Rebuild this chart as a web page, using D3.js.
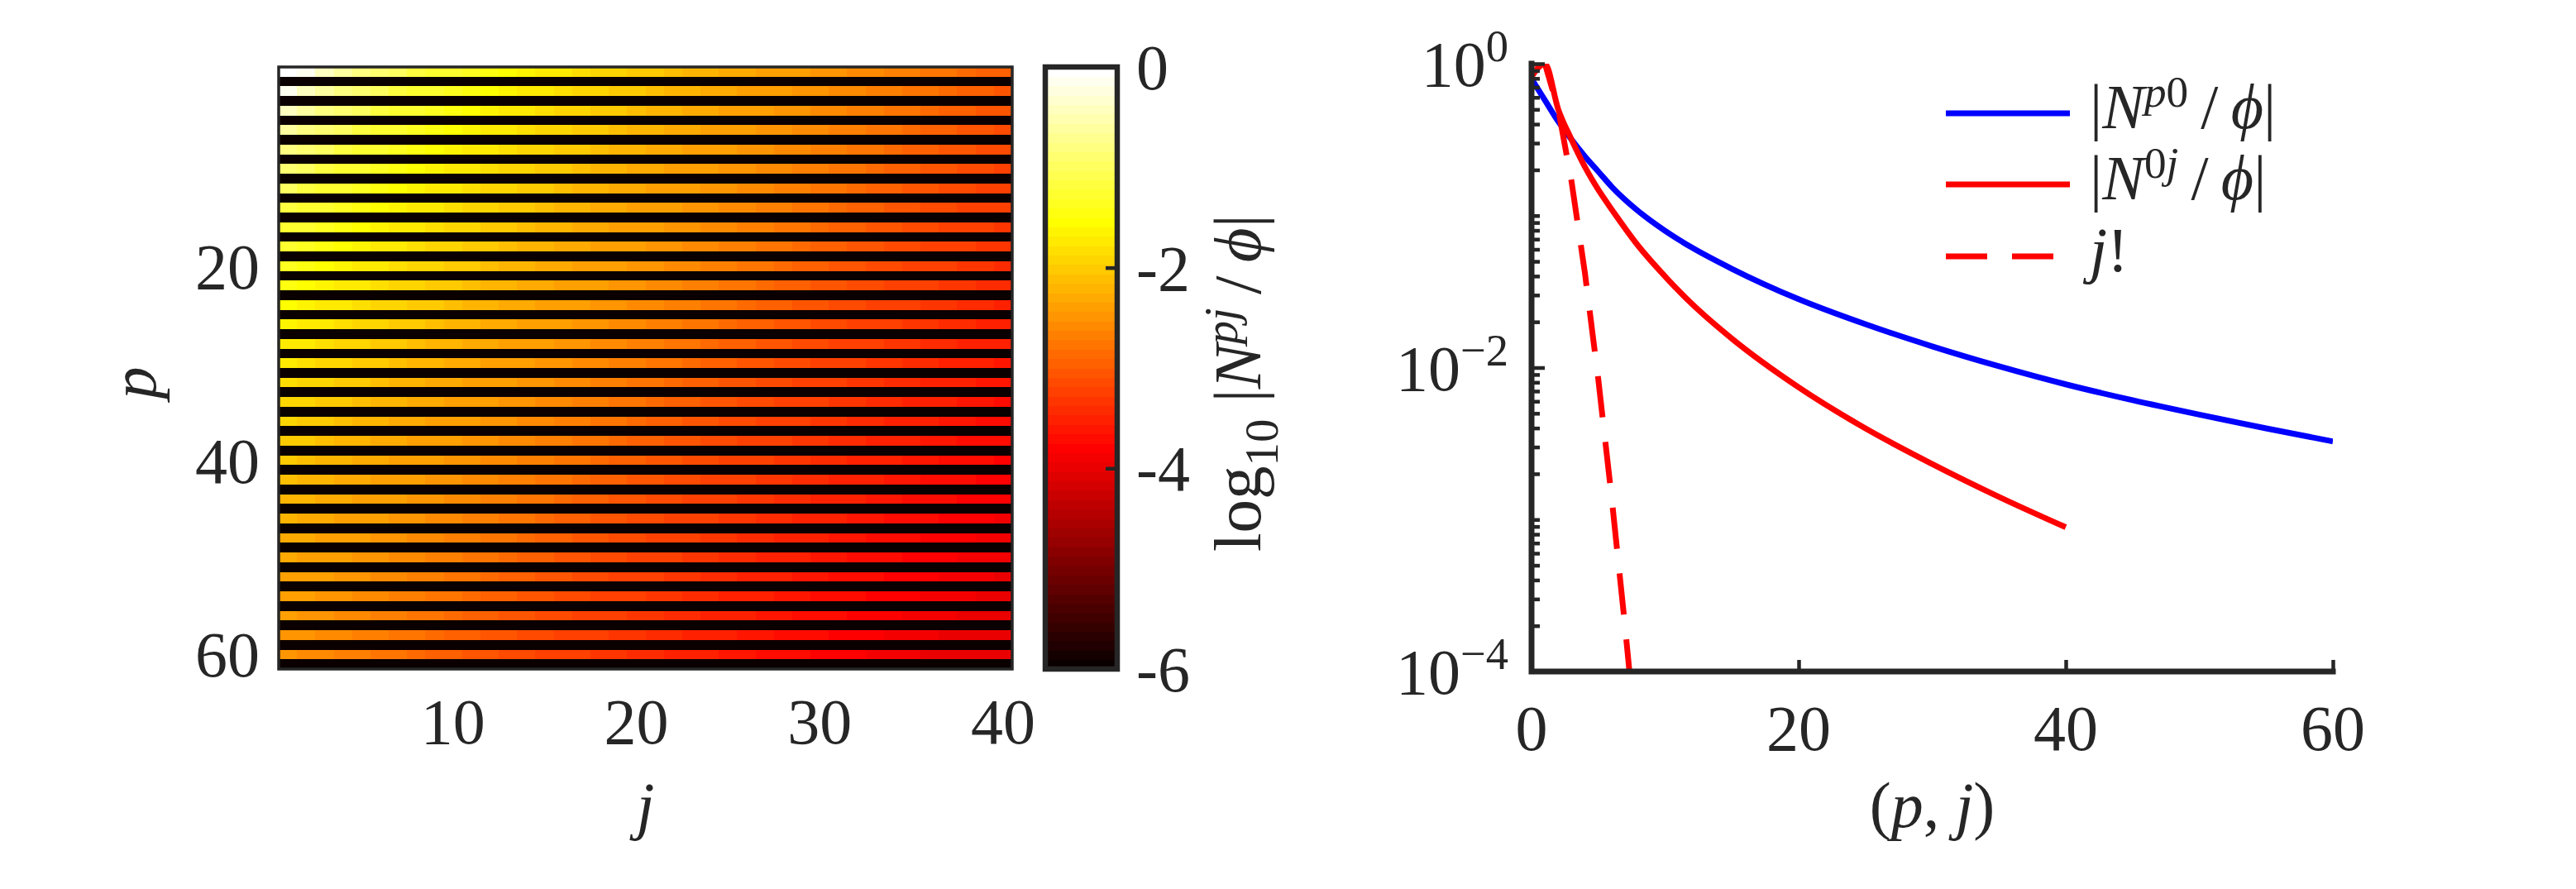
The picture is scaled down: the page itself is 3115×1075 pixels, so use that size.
<!DOCTYPE html>
<html><head><meta charset="utf-8">
<script src="https://cdn.jsdelivr.net/npm/d3@7"></script>
<style>
body{margin:0;background:#fff;}
svg text{font-family:"Liberation Serif","DejaVu Serif",serif;fill:#262626;}
</style></head><body>
<svg id="chart" width="3115" height="1075"></svg>
<script>
// ---------------- data ----------------
const pValues = d3.range(0, 62);          // rows p = 0..61 (odd rows are zero -> below colour range)
const jValues = d3.range(1, 41);          // columns j = 1..40
// log10|N^{pj}/phi| for even p = 0,2,...,60 (one row per even p, 40 columns)
const heatEvenRows = [
[0,-0.18,-0.42,-0.62,-0.78,-0.92,-1.03,-1.13,-1.22,-1.31,-1.4,-1.48,-1.55,-1.62,-1.69,-1.76,-1.82,-1.88,-1.94,-2,-2.06,-2.11,-2.16,-2.21,-2.26,-2.3,-2.35,-2.39,-2.43,-2.47,-2.51,-2.56,-2.61,-2.66,-2.71,-2.76,-2.81,-2.86,-2.91,-2.96],
[-0.18,-0.42,-0.62,-0.78,-0.92,-1.03,-1.13,-1.22,-1.31,-1.4,-1.48,-1.55,-1.62,-1.69,-1.76,-1.82,-1.88,-1.94,-2,-2.06,-2.11,-2.16,-2.21,-2.26,-2.3,-2.35,-2.39,-2.43,-2.47,-2.51,-2.56,-2.61,-2.66,-2.71,-2.76,-2.81,-2.86,-2.91,-2.96,-3.01],
[-0.42,-0.62,-0.78,-0.92,-1.03,-1.13,-1.22,-1.31,-1.4,-1.48,-1.55,-1.62,-1.69,-1.76,-1.82,-1.88,-1.94,-2,-2.06,-2.11,-2.16,-2.21,-2.26,-2.3,-2.35,-2.39,-2.43,-2.47,-2.51,-2.56,-2.61,-2.66,-2.71,-2.76,-2.81,-2.86,-2.91,-2.96,-3.01,-3.06],
[-0.62,-0.78,-0.92,-1.03,-1.13,-1.22,-1.31,-1.4,-1.48,-1.55,-1.62,-1.69,-1.76,-1.82,-1.88,-1.94,-2,-2.06,-2.11,-2.16,-2.21,-2.26,-2.3,-2.35,-2.39,-2.43,-2.47,-2.51,-2.56,-2.61,-2.66,-2.71,-2.76,-2.81,-2.86,-2.91,-2.96,-3.01,-3.06,-3.11],
[-0.78,-0.92,-1.03,-1.13,-1.22,-1.31,-1.4,-1.48,-1.55,-1.62,-1.69,-1.76,-1.82,-1.88,-1.94,-2,-2.06,-2.11,-2.16,-2.21,-2.26,-2.3,-2.35,-2.39,-2.43,-2.47,-2.51,-2.56,-2.61,-2.66,-2.71,-2.76,-2.81,-2.86,-2.91,-2.96,-3.01,-3.06,-3.11,-3.16],
[-0.92,-1.03,-1.13,-1.22,-1.31,-1.4,-1.48,-1.55,-1.62,-1.69,-1.76,-1.82,-1.88,-1.94,-2,-2.06,-2.11,-2.16,-2.21,-2.26,-2.3,-2.35,-2.39,-2.43,-2.47,-2.51,-2.56,-2.61,-2.66,-2.71,-2.76,-2.81,-2.86,-2.91,-2.96,-3.01,-3.06,-3.11,-3.16,-3.2],
[-1.03,-1.13,-1.22,-1.31,-1.4,-1.48,-1.55,-1.62,-1.69,-1.76,-1.82,-1.88,-1.94,-2,-2.06,-2.11,-2.16,-2.21,-2.26,-2.3,-2.35,-2.39,-2.43,-2.47,-2.51,-2.56,-2.61,-2.66,-2.71,-2.76,-2.81,-2.86,-2.91,-2.96,-3.01,-3.06,-3.11,-3.16,-3.2,-3.24],
[-1.13,-1.22,-1.31,-1.4,-1.48,-1.55,-1.62,-1.69,-1.76,-1.82,-1.88,-1.94,-2,-2.06,-2.11,-2.16,-2.21,-2.26,-2.3,-2.35,-2.39,-2.43,-2.47,-2.51,-2.56,-2.61,-2.66,-2.71,-2.76,-2.81,-2.86,-2.91,-2.96,-3.01,-3.06,-3.11,-3.16,-3.2,-3.24,-3.28],
[-1.22,-1.31,-1.4,-1.48,-1.55,-1.62,-1.69,-1.76,-1.82,-1.88,-1.94,-2,-2.06,-2.11,-2.16,-2.21,-2.26,-2.3,-2.35,-2.39,-2.43,-2.47,-2.51,-2.56,-2.61,-2.66,-2.71,-2.76,-2.81,-2.86,-2.91,-2.96,-3.01,-3.06,-3.11,-3.16,-3.2,-3.24,-3.28,-3.32],
[-1.31,-1.4,-1.48,-1.55,-1.62,-1.69,-1.76,-1.82,-1.88,-1.94,-2,-2.06,-2.11,-2.16,-2.21,-2.26,-2.3,-2.35,-2.39,-2.43,-2.47,-2.51,-2.56,-2.61,-2.66,-2.71,-2.76,-2.81,-2.86,-2.91,-2.96,-3.01,-3.06,-3.11,-3.16,-3.2,-3.24,-3.28,-3.32,-3.36],
[-1.4,-1.48,-1.55,-1.62,-1.69,-1.76,-1.82,-1.88,-1.94,-2,-2.06,-2.11,-2.16,-2.21,-2.26,-2.3,-2.35,-2.39,-2.43,-2.47,-2.51,-2.56,-2.61,-2.66,-2.71,-2.76,-2.81,-2.86,-2.91,-2.96,-3.01,-3.06,-3.11,-3.16,-3.2,-3.24,-3.28,-3.32,-3.36,-3.4],
[-1.48,-1.55,-1.62,-1.69,-1.76,-1.82,-1.88,-1.94,-2,-2.06,-2.11,-2.16,-2.21,-2.26,-2.3,-2.35,-2.39,-2.43,-2.47,-2.51,-2.56,-2.61,-2.66,-2.71,-2.76,-2.81,-2.86,-2.91,-2.96,-3.01,-3.06,-3.11,-3.16,-3.2,-3.24,-3.28,-3.32,-3.36,-3.4,-3.44],
[-1.55,-1.62,-1.69,-1.76,-1.82,-1.88,-1.94,-2,-2.06,-2.11,-2.16,-2.21,-2.26,-2.3,-2.35,-2.39,-2.43,-2.47,-2.51,-2.56,-2.61,-2.66,-2.71,-2.76,-2.81,-2.86,-2.91,-2.96,-3.01,-3.06,-3.11,-3.16,-3.2,-3.24,-3.28,-3.32,-3.36,-3.4,-3.44,-3.48],
[-1.62,-1.69,-1.76,-1.82,-1.88,-1.94,-2,-2.06,-2.11,-2.16,-2.21,-2.26,-2.3,-2.35,-2.39,-2.43,-2.47,-2.51,-2.56,-2.61,-2.66,-2.71,-2.76,-2.81,-2.86,-2.91,-2.96,-3.01,-3.06,-3.11,-3.16,-3.2,-3.24,-3.28,-3.32,-3.36,-3.4,-3.44,-3.48,-3.52],
[-1.69,-1.76,-1.82,-1.88,-1.94,-2,-2.06,-2.11,-2.16,-2.21,-2.26,-2.3,-2.35,-2.39,-2.43,-2.47,-2.51,-2.56,-2.61,-2.66,-2.71,-2.76,-2.81,-2.86,-2.91,-2.96,-3.01,-3.06,-3.11,-3.16,-3.2,-3.24,-3.28,-3.32,-3.36,-3.4,-3.44,-3.48,-3.52,-3.56],
[-1.76,-1.82,-1.88,-1.94,-2,-2.06,-2.11,-2.16,-2.21,-2.26,-2.3,-2.35,-2.39,-2.43,-2.47,-2.51,-2.56,-2.61,-2.66,-2.71,-2.76,-2.81,-2.86,-2.91,-2.96,-3.01,-3.06,-3.11,-3.16,-3.2,-3.24,-3.28,-3.32,-3.36,-3.4,-3.44,-3.48,-3.52,-3.56,-3.59],
[-1.82,-1.88,-1.94,-2,-2.06,-2.11,-2.16,-2.21,-2.26,-2.3,-2.35,-2.39,-2.43,-2.47,-2.51,-2.56,-2.61,-2.66,-2.71,-2.76,-2.81,-2.86,-2.91,-2.96,-3.01,-3.06,-3.11,-3.16,-3.2,-3.24,-3.28,-3.32,-3.36,-3.4,-3.44,-3.48,-3.52,-3.56,-3.59,-3.63],
[-1.88,-1.94,-2,-2.06,-2.11,-2.16,-2.21,-2.26,-2.3,-2.35,-2.39,-2.43,-2.47,-2.51,-2.56,-2.61,-2.66,-2.71,-2.76,-2.81,-2.86,-2.91,-2.96,-3.01,-3.06,-3.11,-3.16,-3.2,-3.24,-3.28,-3.32,-3.36,-3.4,-3.44,-3.48,-3.52,-3.56,-3.59,-3.63,-3.66],
[-1.94,-2,-2.06,-2.11,-2.16,-2.21,-2.26,-2.3,-2.35,-2.39,-2.43,-2.47,-2.51,-2.56,-2.61,-2.66,-2.71,-2.76,-2.81,-2.86,-2.91,-2.96,-3.01,-3.06,-3.11,-3.16,-3.2,-3.24,-3.28,-3.32,-3.36,-3.4,-3.44,-3.48,-3.52,-3.56,-3.59,-3.63,-3.66,-3.7],
[-2,-2.06,-2.11,-2.16,-2.21,-2.26,-2.3,-2.35,-2.39,-2.43,-2.47,-2.51,-2.56,-2.61,-2.66,-2.71,-2.76,-2.81,-2.86,-2.91,-2.96,-3.01,-3.06,-3.11,-3.16,-3.2,-3.24,-3.28,-3.32,-3.36,-3.4,-3.44,-3.48,-3.52,-3.56,-3.59,-3.63,-3.66,-3.7,-3.73],
[-2.06,-2.11,-2.16,-2.21,-2.26,-2.3,-2.35,-2.39,-2.43,-2.47,-2.51,-2.56,-2.61,-2.66,-2.71,-2.76,-2.81,-2.86,-2.91,-2.96,-3.01,-3.06,-3.11,-3.16,-3.2,-3.24,-3.28,-3.32,-3.36,-3.4,-3.44,-3.48,-3.52,-3.56,-3.59,-3.63,-3.66,-3.7,-3.73,-3.77],
[-2.11,-2.16,-2.21,-2.26,-2.3,-2.35,-2.39,-2.43,-2.47,-2.51,-2.56,-2.61,-2.66,-2.71,-2.76,-2.81,-2.86,-2.91,-2.96,-3.01,-3.06,-3.11,-3.16,-3.2,-3.24,-3.28,-3.32,-3.36,-3.4,-3.44,-3.48,-3.52,-3.56,-3.59,-3.63,-3.66,-3.7,-3.73,-3.77,-3.8],
[-2.16,-2.21,-2.26,-2.3,-2.35,-2.39,-2.43,-2.47,-2.51,-2.56,-2.61,-2.66,-2.71,-2.76,-2.81,-2.86,-2.91,-2.96,-3.01,-3.06,-3.11,-3.16,-3.2,-3.24,-3.28,-3.32,-3.36,-3.4,-3.44,-3.48,-3.52,-3.56,-3.59,-3.63,-3.66,-3.7,-3.73,-3.77,-3.8,-3.83],
[-2.21,-2.26,-2.3,-2.35,-2.39,-2.43,-2.47,-2.51,-2.56,-2.61,-2.66,-2.71,-2.76,-2.81,-2.86,-2.91,-2.96,-3.01,-3.06,-3.11,-3.16,-3.2,-3.24,-3.28,-3.32,-3.36,-3.4,-3.44,-3.48,-3.52,-3.56,-3.59,-3.63,-3.66,-3.7,-3.73,-3.77,-3.8,-3.83,-3.86],
[-2.26,-2.3,-2.35,-2.39,-2.43,-2.47,-2.51,-2.56,-2.61,-2.66,-2.71,-2.76,-2.81,-2.86,-2.91,-2.96,-3.01,-3.06,-3.11,-3.16,-3.2,-3.24,-3.28,-3.32,-3.36,-3.4,-3.44,-3.48,-3.52,-3.56,-3.59,-3.63,-3.66,-3.7,-3.73,-3.77,-3.8,-3.83,-3.86,-3.89],
[-2.3,-2.35,-2.39,-2.43,-2.47,-2.51,-2.56,-2.61,-2.66,-2.71,-2.76,-2.81,-2.86,-2.91,-2.96,-3.01,-3.06,-3.11,-3.16,-3.2,-3.24,-3.28,-3.32,-3.36,-3.4,-3.44,-3.48,-3.52,-3.56,-3.59,-3.63,-3.66,-3.7,-3.73,-3.77,-3.8,-3.83,-3.86,-3.89,-3.92],
[-2.35,-2.39,-2.43,-2.47,-2.51,-2.56,-2.61,-2.66,-2.71,-2.76,-2.81,-2.86,-2.91,-2.96,-3.01,-3.06,-3.11,-3.16,-3.2,-3.24,-3.28,-3.32,-3.36,-3.4,-3.44,-3.48,-3.52,-3.56,-3.59,-3.63,-3.66,-3.7,-3.73,-3.77,-3.8,-3.83,-3.86,-3.89,-3.92,-3.94],
[-2.39,-2.43,-2.47,-2.51,-2.56,-2.61,-2.66,-2.71,-2.76,-2.81,-2.86,-2.91,-2.96,-3.01,-3.06,-3.11,-3.16,-3.2,-3.24,-3.28,-3.32,-3.36,-3.4,-3.44,-3.48,-3.52,-3.56,-3.59,-3.63,-3.66,-3.7,-3.73,-3.77,-3.8,-3.83,-3.86,-3.89,-3.92,-3.94,-3.96],
[-2.43,-2.47,-2.51,-2.56,-2.61,-2.66,-2.71,-2.76,-2.81,-2.86,-2.91,-2.96,-3.01,-3.06,-3.11,-3.16,-3.2,-3.24,-3.28,-3.32,-3.36,-3.4,-3.44,-3.48,-3.52,-3.56,-3.59,-3.63,-3.66,-3.7,-3.73,-3.77,-3.8,-3.83,-3.86,-3.89,-3.92,-3.94,-3.96,-3.98],
[-2.47,-2.51,-2.56,-2.61,-2.66,-2.71,-2.76,-2.81,-2.86,-2.91,-2.96,-3.01,-3.06,-3.11,-3.16,-3.2,-3.24,-3.28,-3.32,-3.36,-3.4,-3.44,-3.48,-3.52,-3.56,-3.59,-3.63,-3.66,-3.7,-3.73,-3.77,-3.8,-3.83,-3.86,-3.89,-3.92,-3.94,-3.96,-3.98,-4],
[-2.51,-2.56,-2.61,-2.66,-2.71,-2.76,-2.81,-2.86,-2.91,-2.96,-3.01,-3.06,-3.11,-3.16,-3.2,-3.24,-3.28,-3.32,-3.36,-3.4,-3.44,-3.48,-3.52,-3.56,-3.59,-3.63,-3.66,-3.7,-3.73,-3.77,-3.8,-3.83,-3.86,-3.89,-3.92,-3.94,-3.96,-3.98,-4,-4.02]
];
const heatXTicks = [10, 20, 30, 40];
const heatYTicks = [20, 40, 60];
const colorLimits = [-6, 0];
const colorbarTicks = [0, -2, -4, -6];
const colormapLevels = 64;

// right panel series
const blueX = [0, 1, 2, 3, 4, 5, 6, 8, 10, 12, 15, 20, 25, 30, 35, 40, 45, 50, 55, 60];
const blueY = [0.794, 0.575, 0.417, 0.316, 0.245, 0.195, 0.155, 0.107, 0.0794, 0.0617, 0.0447, 0.0282, 0.0193, 0.0138, 0.0102, 0.00776, 0.0061, 0.0049, 0.00398, 0.00327];
const redX = [0, 1, 2, 3, 4, 5, 6, 8, 10, 12, 15, 20, 25, 30, 35, 40];
const redY = [0.82, 1.0, 0.5, 0.316, 0.209, 0.148, 0.11, 0.0631, 0.0398, 0.0263, 0.0155, 0.00741, 0.00398, 0.00232, 0.00141, 0.00089];
const factX = [0, 1, 2, 3, 4, 5, 6, 7, 8];
const factY = [1, 1, 0.5, 0.1667, 0.04167, 0.008333, 0.001389, 0.0001984, 0.0000248];
const rightXTicks = [0, 20, 40, 60];
const rightYTicks = [1, 1e-2, 1e-4];
const rightYTickExp = ["0", "\u22122", "\u22124"];
const rightYMinor = [2e-4,3e-4,4e-4,5e-4,6e-4,7e-4,8e-4,9e-4,1e-3,2e-3,3e-3,4e-3,5e-3,6e-3,7e-3,8e-3,9e-3,
                     2e-2,3e-2,4e-2,5e-2,6e-2,7e-2,8e-2,9e-2,1e-1,2e-1,3e-1,4e-1,5e-1,6e-1,7e-1,8e-1,9e-1];

// ---------------- drawing ----------------
const svg = d3.select('#chart');
const INK = '#262626';
const FS = 78;

function hot(i){
  const m = colormapLevels, n = Math.floor(3*m/8);
  const r = i < n ? (i+1)/n : 1;
  const g = i < n ? 0 : (i < 2*n ? (i-n+1)/n : 1);
  const b = i < 2*n ? 0 : (i-2*n+1)/(m-2*n);
  return d3.rgb(r*255, g*255, b*255).toString();
}
function colorOf(v){
  if (v === null || !isFinite(v)) return hot(0);
  let i = Math.floor((v - colorLimits[0])/(colorLimits[1]-colorLimits[0])*colormapLevels);
  i = Math.max(0, Math.min(colormapLevels-1, i));
  return hot(i);
}

// math text helper
function mathText(sel, segs, size, supRaise){
  const raise = supRaise === undefined ? 0.34 : supRaise;
  let cur = 0;
  segs.forEach(s => {
    const pos = s.pos || 0;
    const fs = pos === 0 ? size : size*0.7;
    const off = pos === 'sup' ? -raise*size : (pos === 'sub' ? 0.26*size : 0);
    const ts = sel.append('tspan').text(s.t)
      .attr('font-size', fs)
      .attr('dy', off - cur);
    if (s.it) ts.attr('font-style', 'italic');
    cur = off;
  });
}

// ---- Heatmap ----
const hx = d3.scaleLinear().domain([0.5, 40.5]).range([337, 1224]);
const hy = d3.scaleLinear().domain([-0.5, 61.5]).range([81, 809]);

const cells = [];
pValues.forEach(p => {
  jValues.forEach((j, ji) => {
    const v = (p % 2 === 0) ? heatEvenRows[p/2][ji] : null;
    cells.push({p, j, v});
  });
});
svg.append('g').selectAll('rect').data(cells).join('rect')
  .attr('x', d => hx(d.j - 0.5))
  .attr('y', d => hy(d.p - 0.5))
  .attr('width', d => hx(d.j + 0.5) - hx(d.j - 0.5) + 0.6)
  .attr('height', d => hy(d.p + 0.5) - hy(d.p - 0.5) + 0.6)
  .attr('fill', d => colorOf(d.v))
  .attr('shape-rendering', 'crispEdges');

svg.append('rect')
  .attr('x', hx(0.5)).attr('y', hy(-0.5))
  .attr('width', hx(40.5)-hx(0.5)).attr('height', hy(61.5)-hy(-0.5))
  .attr('fill', 'none').attr('stroke', INK).attr('stroke-width', 3.5);

// heatmap tick labels
svg.append('g').selectAll('text').data(heatXTicks).join('text')
  .attr('x', d => hx(d)).attr('y', 899)
  .attr('text-anchor', 'middle').attr('font-size', FS).text(d => d);
svg.append('g').selectAll('text').data(heatYTicks).join('text')
  .attr('x', 314).attr('y', d => hy(d) + 27)
  .attr('text-anchor', 'end').attr('font-size', FS).text(d => d);

// axis labels
svg.append('text').attr('x', (hx(0.5)+hx(40.5))/2).attr('y', 1000)
  .attr('text-anchor', 'middle').attr('font-size', FS).attr('font-style', 'italic').text('j');
svg.append('text').attr('transform', `translate(188,${(hy(-0.5)+hy(61.5))/2 + 18}) rotate(-90)`)
  .attr('text-anchor', 'middle').attr('font-size', FS).attr('font-style', 'italic').text('p');

// ---- Colorbar ----
const cbX0 = 1264, cbX1 = 1351;
const cb = d3.scaleLinear().domain(colorLimits).range([hy(61.5), hy(-0.5)]);
const bandStep = (colorLimits[1]-colorLimits[0])/colormapLevels;
svg.append('g').selectAll('rect').data(d3.range(colormapLevels)).join('rect')
  .attr('x', cbX0).attr('width', cbX1 - cbX0)
  .attr('y', i => cb(colorLimits[0] + (i+1)*bandStep))
  .attr('height', i => cb(colorLimits[0] + i*bandStep) - cb(colorLimits[0] + (i+1)*bandStep) + 0.6)
  .attr('fill', i => hot(i)).attr('shape-rendering', 'crispEdges');
svg.append('g').attr('transform', `translate(${cbX1 - 3},0)`)
  .call(d3.axisLeft(cb).tickValues([-2, -4]).tickSize(11).tickFormat(''))
  .call(g => g.select('.domain').remove())
  .call(g => g.selectAll('.tick line').attr('stroke', INK).attr('stroke-width', 4.5));
svg.append('rect').attr('x', cbX0).attr('y', cb(0)).attr('width', cbX1-cbX0).attr('height', cb(-6)-cb(0))
  .attr('fill', 'none').attr('stroke', INK).attr('stroke-width', 6.5);
svg.append('g').selectAll('text').data(colorbarTicks).join('text')
  .attr('x', 1374).attr('y', d => cb(d) + 27)
  .attr('font-size', FS).text(d => d === 0 ? '0' : '-' + Math.abs(d));
{
  const t = svg.append('text').attr('transform', `translate(1524,${(cb(0)+cb(-6))/2 + 18}) rotate(-90)`)
    .attr('text-anchor', 'middle').attr('font-size', 81);
  mathText(t, [{t:'log'}, {t:'10', pos:'sub'}, {t:' |'}, {t:'N', it:1}, {t:'pj', it:1, pos:'sup'},
               {t:'\u2009/\u2009'}, {t:'\u03D5', it:1}, {t:'|'}], 81);
}

// ---- Right panel ----
const rx = d3.scaleLinear().domain([0, 60]).range([1852, 2821]);
const ry = d3.scaleLog().domain([1e-4, 1]).range([812, 77]);

svg.append('defs').append('clipPath').attr('id', 'clipR').append('rect')
  .attr('x', rx(0)).attr('y', ry(1)).attr('width', rx(60)-rx(0)).attr('height', ry(1e-4)-ry(1));

const lineGen = (xs, ys, curve) => d3.line().x((d,i) => rx(xs[i])).y(d => ry(d)).curve(curve)(ys);
const plotG = svg.append('g').attr('clip-path', 'url(#clipR)');
plotG.append('path').attr('d', lineGen(blueX, blueY, d3.curveMonotoneX))
  .attr('fill', 'none').attr('stroke', '#0000ff').attr('stroke-width', 7).attr('stroke-linejoin', 'round');
plotG.append('path').attr('d', lineGen(redX, redY, d3.curveMonotoneX))
  .attr('fill', 'none').attr('stroke', '#ff0000').attr('stroke-width', 7).attr('stroke-linejoin', 'round');
plotG.append('path').attr('d', lineGen(factX, factY, d3.curveLinear))
  .attr('fill', 'none').attr('stroke', '#ff0000').attr('stroke-width', 7).attr('stroke-dasharray', '50,30');

// ticks
svg.append('g').attr('transform', `translate(${rx(0)},0)`)
  .call(d3.axisRight(ry).tickValues(rightYMinor).tickSize(10).tickFormat(''))
  .call(g => g.select('.domain').remove())
  .call(g => g.selectAll('.tick line').attr('stroke', INK).attr('stroke-width', 4.5));
svg.append('g').attr('transform', `translate(${rx(0)},0)`)
  .call(d3.axisRight(ry).tickValues(rightYTicks).tickSize(16).tickFormat(''))
  .call(g => g.select('.domain').remove())
  .call(g => g.selectAll('.tick line').attr('stroke', INK).attr('stroke-width', 4.5));
svg.append('g').attr('transform', `translate(0,${ry(1e-4)})`)
  .call(d3.axisTop(rx).tickValues(rightXTicks.slice(1)).tickSize(14).tickFormat(''))
  .call(g => g.select('.domain').remove())
  .call(g => g.selectAll('.tick line').attr('stroke', INK).attr('stroke-width', 4.5));
svg.append('path')
  .attr('d', `M${rx(0)},${ry(1)}V${ry(1e-4)}H${rx(60)}`)
  .attr('fill', 'none').attr('stroke', INK).attr('stroke-width', 7).attr('stroke-linecap', 'square');

// tick labels
svg.append('g').selectAll('text').data(rightXTicks).join('text')
  .attr('x', d => rx(d)).attr('y', 907)
  .attr('text-anchor', 'middle').attr('font-size', FS).text(d => d);
rightYTicks.forEach((v, i) => {
  const t = svg.append('text').attr('x', 1824).attr('y', ry(v) + 27)
    .attr('text-anchor', 'end').attr('font-size', FS);
  mathText(t, [{t:'10'}, {t:rightYTickExp[i], pos:'sup'}], FS, 0.38);
});
{
  const t = svg.append('text').attr('x', (rx(0)+rx(60))/2).attr('y', 1000)
    .attr('text-anchor', 'middle').attr('font-size', FS);
  mathText(t, [{t:'('}, {t:'p', it:1}, {t:', '}, {t:'j', it:1}, {t:')'}], FS);
}

// legend
const legendItems = [
  {color:'#0000ff', dash:null, segs:[{t:'|'},{t:'N',it:1},{t:'p',it:1,pos:'sup'},{t:'0',pos:'sup'},{t:'\u2009/\u2009'},{t:'\u03D5',it:1},{t:'|'}]},
  {color:'#ff0000', dash:null, segs:[{t:'|'},{t:'N',it:1},{t:'0',pos:'sup'},{t:'j',it:1,pos:'sup'},{t:'\u2009/\u2009'},{t:'\u03D5',it:1},{t:'|'}]},
  {color:'#ff0000', dash:'50,30', segs:[{t:'j',it:1},{t:'!'}]}
];
const legendRows = [137, 223, 310];
legendItems.forEach((it, i) => {
  const y = legendRows[i];
  svg.append('line').attr('x1', 2353).attr('x2', 2503).attr('y1', y).attr('y2', y)
    .attr('stroke', it.color).attr('stroke-width', 7).attr('stroke-dasharray', it.dash);
  const t = svg.append('text').attr('x', 2527).attr('y', y + 18).attr('font-size', 76);
  mathText(t, it.segs, 76);
});
</script>
</body></html>
